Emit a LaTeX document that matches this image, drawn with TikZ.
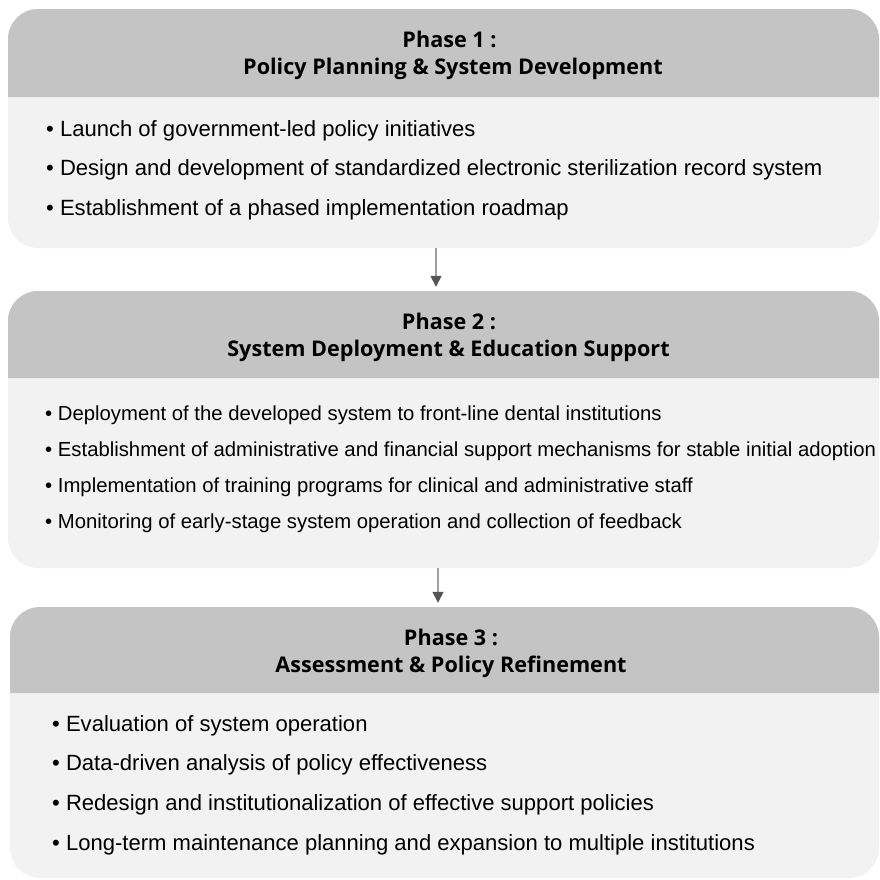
\documentclass[tikz,border=0pt]{standalone}
\usepackage{fontspec}
\setmainfont{Liberation Sans}
\newfontfamily\hdrfont{Open Sans}
\usetikzlibrary{arrows.meta}
\definecolor{hdrgray}{HTML}{C4C4C4}
\definecolor{bodygray}{HTML}{F2F2F2}
\definecolor{arrowline}{HTML}{A0A0A0}
\definecolor{arrowhead}{HTML}{555555}
\tikzset{
  panel/.style={fill=bodygray, rounded corners=30pt, inner sep=0pt, draw=none},
  hdrtxt/.style={anchor=base, inner sep=0pt, font=\hdrfont\bfseries\fontsize{21.6}{25}\selectfont},
  itemA/.style={anchor=base west, inner sep=0pt, font=\fontsize{22.05}{26}\selectfont},
  itemB/.style={anchor=base west, inner sep=0pt, font=\fontsize{20.3}{24}\selectfont},
  flow/.style={draw=arrowline, line width=1.5pt, -{Triangle[length=11pt,width=11pt,color=arrowhead]}, shorten >=4pt},
}
\begin{document}
\begin{tikzpicture}[x=1pt,y=-1pt]
\useasboundingbox (0,0) rectangle (880,879);
% panels
\node[panel, minimum width=871pt, minimum height=239pt] (p1) at (443.5,128.5) {};
\fill[hdrgray] (8,97) [rounded corners=30pt] -- (8,9) -- (879,9) [sharp corners] -- (879,97) -- cycle;
\node[panel, minimum width=871pt, minimum height=277pt] (p2) at (443.5,429.5) {};
\fill[hdrgray] (8,378) [rounded corners=30pt] -- (8,291) -- (879,291) [sharp corners] -- (879,378) -- cycle;
\node[panel, minimum width=869pt, minimum height=271pt] (p3) at (444.5,742.5) {};
\fill[hdrgray] (10,693) [rounded corners=30pt] -- (10,607) -- (879,607) [sharp corners] -- (879,693) -- cycle;
% headers
\node[hdrtxt] (h1a) at (449.5,47) {Phase 1 :};
\node[hdrtxt] (h1b) at (453,74) {Policy Planning \& System Development};
\node[hdrtxt] (h2a) at (449,329) {Phase 2 :};
\node[hdrtxt] (h2b) at (448.5,356) {System Deployment \& Education Support};
\node[hdrtxt] (h3a) at (451,645) {Phase 3 :};
\node[hdrtxt] (h3b) at (451,672) {Assessment \& Policy Refinement};
% phase 1 items
\node[itemA] (i11) at (46,136) {• Launch of government-led policy initiatives};
\node[itemA] (i12) at (46,175.5) {• Design and development of standardized electronic sterilization record system};
\node[itemA] (i13) at (46,215) {• Establishment of a phased implementation roadmap};
% phase 2 items
\node[itemB] (i21) at (45,420) {• Deployment of the developed system to front-line dental institutions};
\node[itemB] (i22) at (45,456) {• Establishment of administrative and financial support mechanisms for stable initial adoption};
\node[itemB] (i23) at (45,492) {• Implementation of training programs for clinical and administrative staff};
\node[itemB] (i24) at (45,528.5) {• Monitoring of early-stage system operation and collection of feedback};
% phase 3 items
\node[itemA] (i31) at (52,731) {• Evaluation of system operation};
\node[itemA] (i32) at (52,770.5) {• Data-driven analysis of policy effectiveness};
\node[itemA] (i33) at (52,810) {• Redesign and institutionalization of effective support policies};
\node[itemA] (i34) at (52,850) {• Long-term maintenance planning and expansion to multiple institutions};
% connectors
\draw[flow] ([xshift=-7.5pt]p1.south) -- ([xshift=-7.5pt]p2.north);
\draw[flow] ([xshift=-5.5pt]p2.south) -- ([xshift=-6.5pt]p3.north);
\end{tikzpicture}
\end{document}
